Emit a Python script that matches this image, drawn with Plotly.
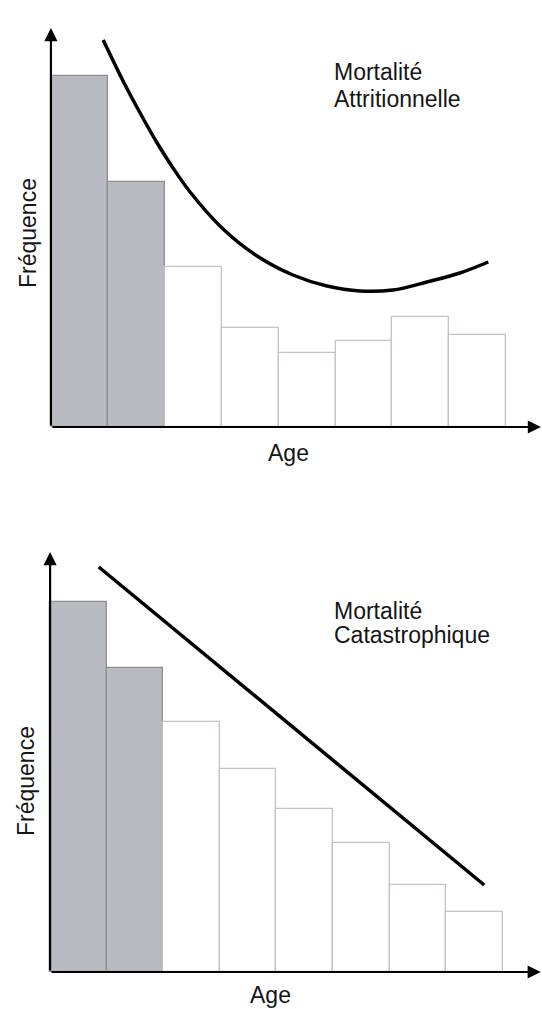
import plotly.graph_objects as go

# ---- data (arbitrary frequency units) ----
age_classes = [1, 2, 3, 4, 5, 6, 7, 8]

attr_freq = [35.1, 24.5, 16.0, 9.9, 7.4, 8.6, 11.0, 9.2]
attr_curve_x = [1.41, 1.76, 2.06, 2.36, 2.64, 2.94, 3.52, 4.12, 4.75, 5.35, 5.93, 6.51, 7.11, 7.69, 8.19]
attr_curve_y = [38.7, 34.6, 31.4, 28.4, 25.9, 23.5, 19.8, 17.1, 15.2, 14.1, 13.6, 13.7, 14.5, 15.4, 16.5]

cata_freq = [37.0, 30.4, 25.0, 20.3, 16.3, 12.9, 8.7, 6.0]
cata_line_x = [1.36, 8.17]
cata_line_y = [40.5, 8.7]

title_attr = ["Mortalité", "Attritionnelle"]
title_cata = ["Mortalité", "Catastrophique"]
x_label = "Age"
y_label = "Fréquence"

# ---- styles ----
gray_fill = "#b8bcc2"
gray_edge = "#8e8e8e"
white_edge = "#cbbfbf"
n_gray = 2
bar_fill = [gray_fill if i < n_gray else "white" for i in range(len(age_classes))]
bar_edge = [gray_edge if i < n_gray else white_edge for i in range(len(age_classes))]

W, H = 542, 1009
FONT = "Liberation Sans, Arial, sans-serif"

fig = go.Figure()

fig.add_trace(go.Bar(x=age_classes, y=attr_freq, width=1.0,
                     marker=dict(color=bar_fill, line=dict(color=bar_edge, width=1.3)),
                     xaxis="x", yaxis="y", showlegend=False, hoverinfo="skip"))
fig.add_trace(go.Scatter(x=attr_curve_x, y=attr_curve_y, mode="lines",
                         line=dict(color="black", width=3.5, shape="spline", smoothing=1.0),
                         xaxis="x", yaxis="y", showlegend=False, hoverinfo="skip"))

fig.add_trace(go.Bar(x=age_classes, y=cata_freq, width=1.0,
                     marker=dict(color=bar_fill, line=dict(color=bar_edge, width=1.3)),
                     xaxis="x2", yaxis="y2", showlegend=False, hoverinfo="skip"))
fig.add_trace(go.Scatter(x=cata_line_x, y=cata_line_y, mode="lines",
                         line=dict(color="black", width=3.5),
                         xaxis="x2", yaxis="y2", showlegend=False, hoverinfo="skip"))

def py(p):
    return 1 - p / H

ax_common = dict(visible=False, fixedrange=True)
fig.update_layout(
    width=W, height=H,
    margin=dict(l=0, r=0, t=0, b=0),
    paper_bgcolor="white", plot_bgcolor="white",
    bargap=0,
    xaxis=dict(domain=[0, 1], range=[-0.4067, 9.1356], anchor="y", **ax_common),
    yaxis=dict(domain=[py(470), 1], range=[-4.3, 42.7], anchor="x", **ax_common),
    xaxis2=dict(domain=[0, 1], range=[-0.385, 9.191], anchor="y2", **ax_common),
    yaxis2=dict(domain=[0, py(500)], range=[-3.7, 47.2], anchor="x2", **ax_common),
)

ann = []
# axes with arrows
for xr, yr, x0, xend, ytop in [("x", "y", 0.49, 9.118, 39.9), ("x2", "y2", 0.5, 9.17, 42.0)]:
    ann.append(dict(x=x0, y=ytop, ax=x0, ay=0, xref=xr, yref=yr, axref=xr, ayref=yr,
                    showarrow=True, arrowhead=2, arrowsize=1.2, arrowwidth=2.2,
                    arrowcolor="black", text=""))
    ann.append(dict(x=xend, y=0, ax=x0, ay=0, xref=xr, yref=yr, axref=xr, ayref=yr,
                    showarrow=True, arrowhead=2, arrowsize=1.2, arrowwidth=2.2,
                    arrowcolor="black", text=""))

font = dict(family=FONT, size=23, color="#151515")
# titles (one annotation per line)
for lines, ymids in [(title_attr, (72, 99)), (title_cata, (611, 635))]:
    for txt, ym in zip(lines, ymids):
        ann.append(dict(text=txt, x=332 / W, y=py(ym), xref="paper", yref="paper",
                        xanchor="left", yanchor="middle", align="left", showarrow=False, font=font))
# axis labels
for xc, yc in [(288, 453), (270, 995)]:
    ann.append(dict(text=x_label, x=xc / W, y=py(yc), xref="paper", yref="paper",
                    xanchor="center", yanchor="middle", showarrow=False, font=font))
for xc, yc in [(28, 233), (26, 781)]:
    ann.append(dict(text=y_label, x=xc / W, y=py(yc), xref="paper", yref="paper",
                    xanchor="center", yanchor="middle", textangle=-90, showarrow=False, font=font))

fig.update_layout(annotations=ann)
fig.write_html("out.html", config={"displayModeBar": False},
               post_script="document.body.style.margin='0';document.body.style.overflow='hidden';")
